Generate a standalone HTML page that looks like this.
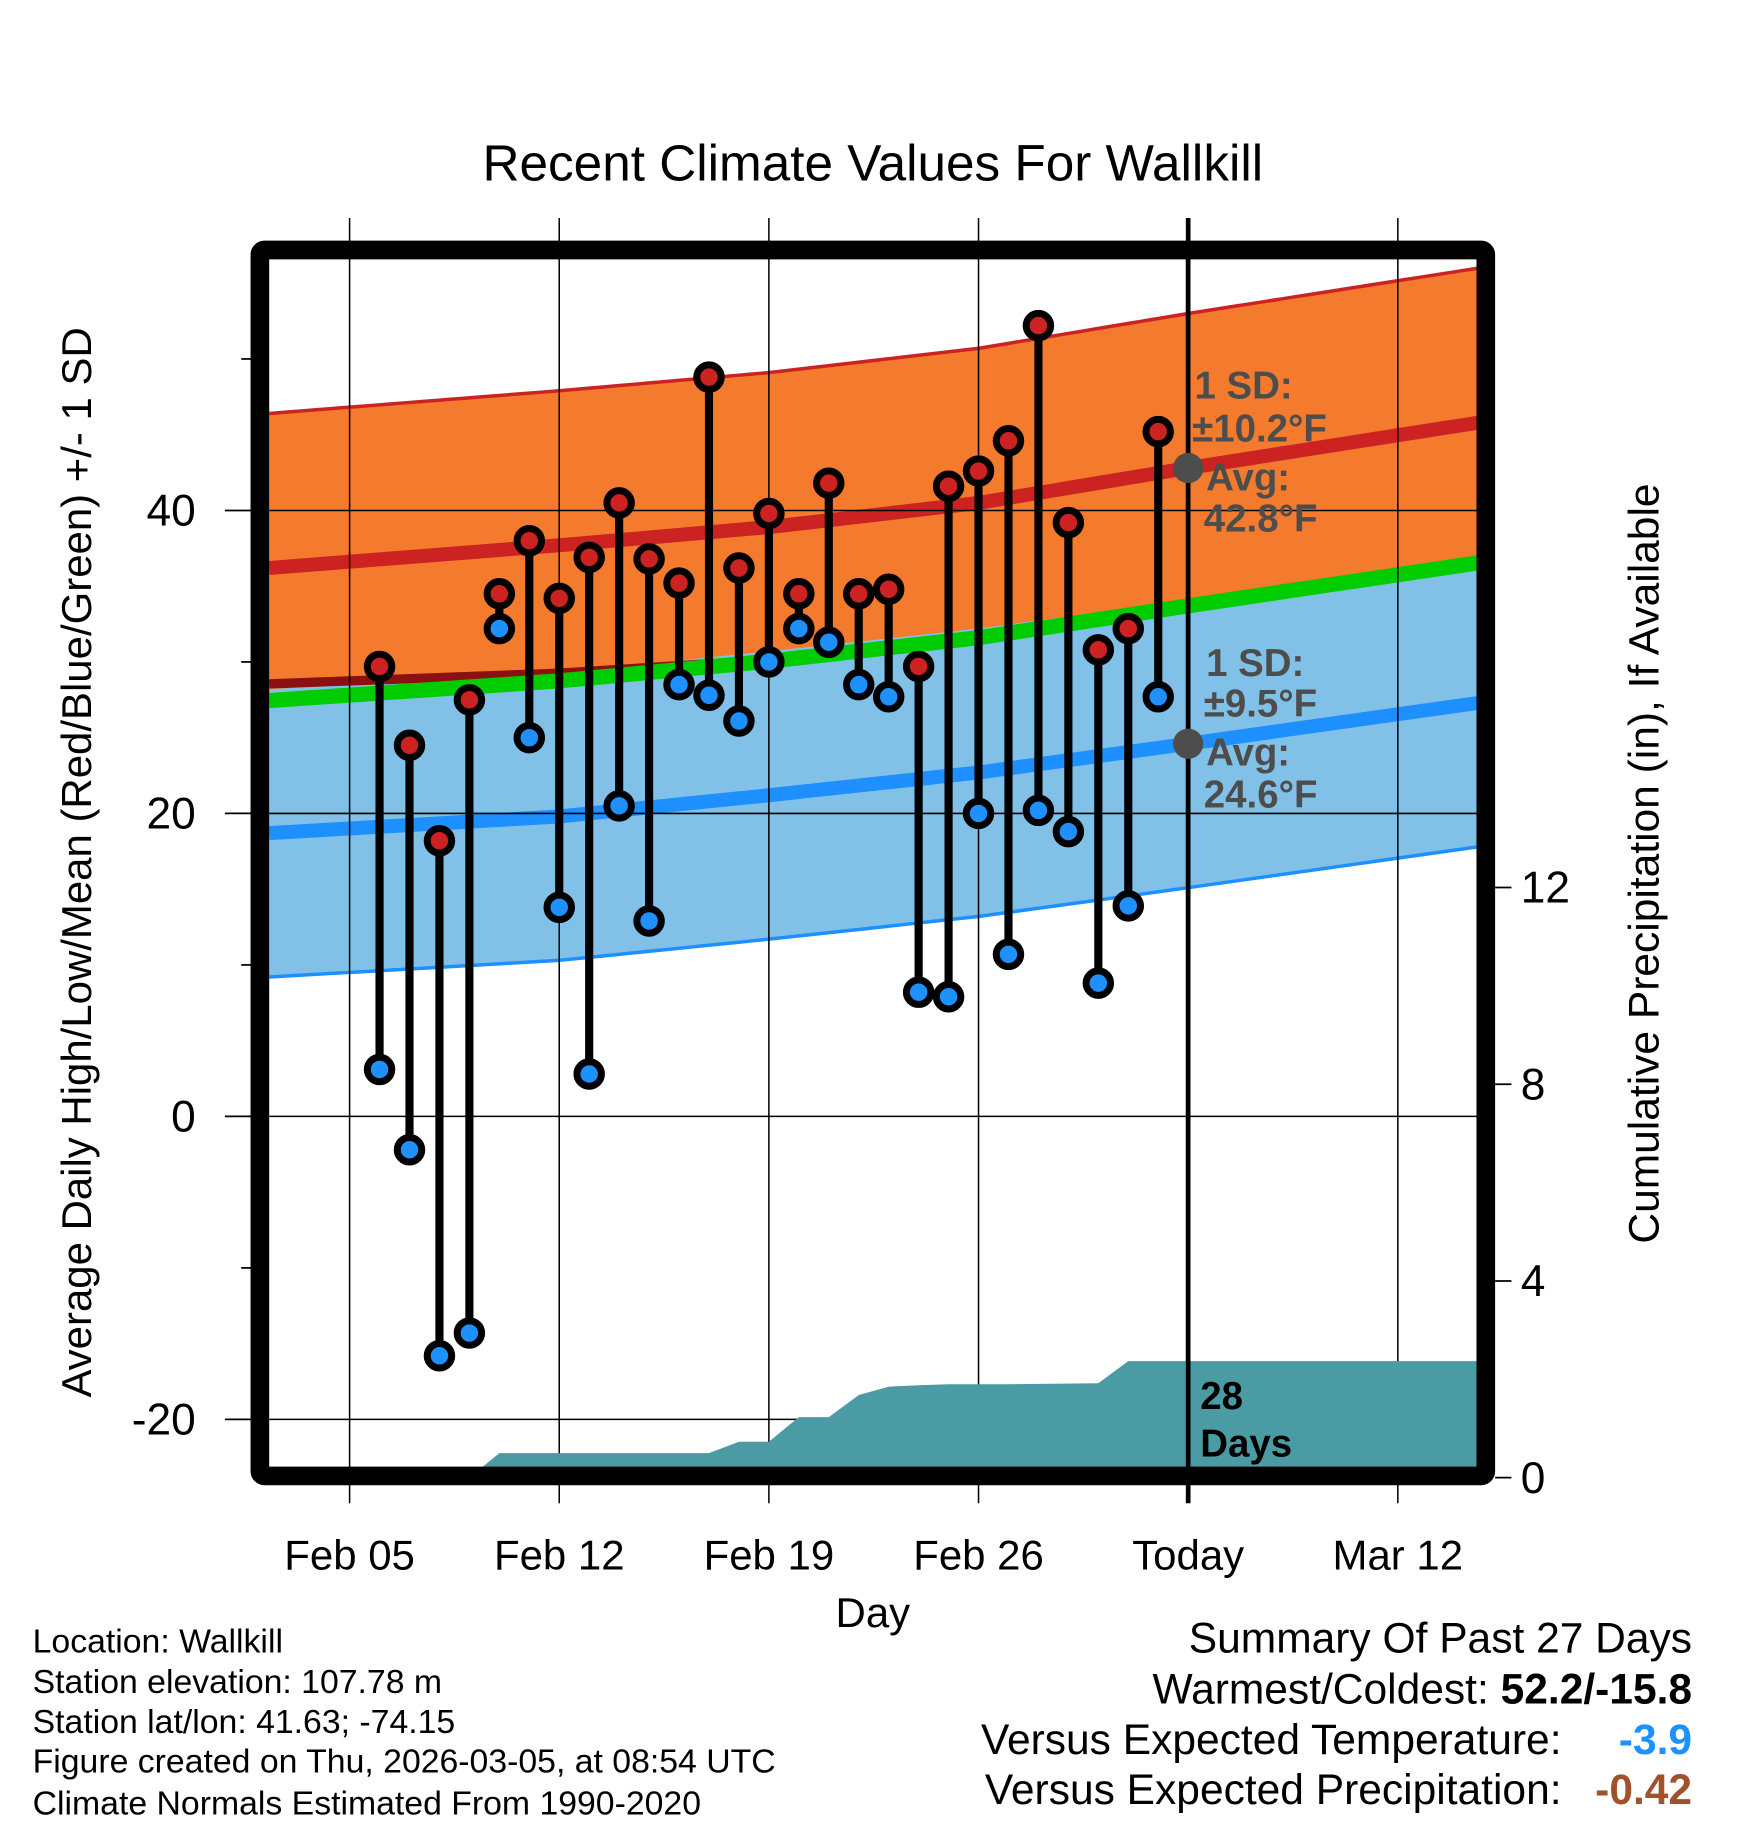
<!DOCTYPE html>
<html><head><meta charset="utf-8"><style>
html,body{margin:0;padding:0;background:#fff;}
svg{display:block;font-family:"Liberation Sans",sans-serif;}
</style></head><body>
<svg id="chart" width="1748" height="1828" viewBox="0 0 1500 1568.6" xmlns="http://www.w3.org/2000/svg">
<g id="bands"></g>
<g id="grid"></g>
<g id="precip"></g>
<g id="marks"></g>
<g id="anno"></g>
<g id="axes"></g>
<text x="749" y="155" font-size="44" text-anchor="middle">Recent Climate Values For Wallkill</text>
<text transform="translate(78,740) rotate(-90)" font-size="36" text-anchor="middle">Average Daily High/Low/Mean (Red/Blue/Green) +/- 1 SD</text>
<text transform="translate(1423,741) rotate(-90)" font-size="36.5" text-anchor="middle">Cumulative Precipitation (in), If Available</text>
<text x="749" y="1396" font-size="36" text-anchor="middle">Day</text>
<g font-size="29">
<text x="28" y="1418">Location: Wallkill</text>
<text x="28" y="1453">Station elevation: 107.78 m</text>
<text x="28" y="1487">Station lat/lon: 41.63; -74.15</text>
<text x="28" y="1521">Figure created on Thu, 2026-03-05, at 08:54 UTC</text>
<text x="28" y="1557">Climate Normals Estimated From 1990-2020</text>
</g>
<g font-size="36.5" text-anchor="end">
<text x="1452" y="1418">Summary Of Past 27 Days</text>
<text x="1452" y="1462">Warmest/Coldest: <tspan font-weight="bold">52.2/-15.8</tspan></text>
<text x="1340" y="1505">Versus Expected Temperature:</text>
<text x="1452" y="1505" fill="#1e90ff" font-weight="bold">-3.9</text>
<text x="1340" y="1548">Versus Expected Precipitation:</text>
<text x="1452" y="1548" fill="#a0522d" font-weight="bold">-0.42</text>
</g>
</svg>
<script>
// day offsets from Feb 05
const dayOffsets = [1,2,3,4,5,6,7,8,9,10,11,12,13,14,15,16,17,18,19,20,21,22,23,24,25,26,27];
const highs = [29.7,24.5,18.2,27.5,34.5,38,34.2,36.9,40.5,36.8,35.2,48.8,36.2,39.8,34.5,41.8,34.5,34.8,29.7,41.6,42.6,44.6,52.2,39.2,30.8,32.2,45.2];
const lows = [3.1,-2.2,-15.8,-14.3,32.2,25,13.8,2.8,20.5,12.9,28.5,27.8,26.1,30,32.2,31.3,28.5,27.7,8.2,7.9,20,10.7,20.2,18.8,8.8,13.9,27.7];
const normDays = [-2.7,7,14,21,28,37.7];
const normHigh = [36.2,37.7,38.9,40.5,42.8,45.8];
const normLow = [18.7,19.8,21.2,22.7,24.6,27.3];
const sdHigh = 10.2, sdLow = 9.5;
const precipDays = [-2.7,4,5,12,13,14,15,16,17,18,19,20,21,22,25,26,27,28,37.7];
const precipVals = [0,0,0.5,0.5,0.73,0.73,1.23,1.23,1.68,1.85,1.88,1.9,1.9,1.9,1.92,2.37,2.37,2.37,2.37];
const yTicks = [40,20,0,-20];
const yMinor = [50,30,10,-10];
const pTicks = [0,4,8,12];
const xTickDays = [0,7,14,21,28,35];
const xTickLabels = ["Feb 05","Feb 12","Feb 19","Feb 26","Today","Mar 12"];

const NS="http://www.w3.org/2000/svg";
const X=d=>300+25.7*d, Y=v=>958-13*v, P=p=>1268-42.2*p;
const L=231,R=1268,T=222,B=1259;
const D0=(L-300)/25.7, D1=(R-300)/25.7;
function mk(parent,tag,attrs){const e=document.createElementNS(NS,tag);for(const k in attrs)e.setAttribute(k,attrs[k]);document.getElementById(parent).appendChild(e);return e;}
function interp(arr,d){for(let i=0;i<normDays.length-1;i++){if(d<=normDays[i+1]||i===normDays.length-2){const t=(d-normDays[i])/(normDays[i+1]-normDays[i]);return arr[i]+(arr[i+1]-arr[i])*t;}}}
const samples=[];for(let k=0;k<=80;k++)samples.push(D0+(D1-D0)*k/80);
function curve(f){return samples.map(d=>[X(d),Y(f(d))]);}
function band(fu,fl){const u=curve(fu),l=curve(fl).reverse();return "M"+u.concat(l).map(p=>p.join(",")).join("L")+"Z";}
function line(f){return "M"+curve(f).map(p=>p.join(",")).join("L");}
const hi=d=>interp(normHigh,d), lo=d=>interp(normLow,d);
let e;
e=mk('bands','path',{d:band(d=>hi(d)+sdHigh,d=>hi(d)-sdHigh),fill:'#f47a2e'});

e=mk('bands','path',{d:line(d=>hi(d)+sdHigh),stroke:'#cc2222','stroke-width':3,fill:'none'});

e=mk('bands','path',{d:band(d=>lo(d)+sdLow,d=>lo(d)-sdLow),fill:'#82c1e7'});

e=mk('bands','path',{d:line(d=>lo(d)-sdLow),stroke:'#1e8fff','stroke-width':3,fill:'none'});

e=mk('bands','path',{d:line(d=>(hi(d)+lo(d))/2+Math.max(0,1.1*(1-(d-D0)/18))),stroke:'#8b1010','stroke-width':8,fill:'none'});

e=mk('bands','path',{d:line(d=>(hi(d)+lo(d))/2),stroke:'#00cc00','stroke-width':13,fill:'none'});

e=mk('bands','path',{d:line(hi),stroke:'#cc2222','stroke-width':12,fill:'none'});

e=mk('bands','path',{d:line(lo),stroke:'#1e8fff','stroke-width':12,fill:'none'});

e=mk('bands','rect',{x:L,y:0,width:R-L,height:T,fill:'#fff'});


// grid
yTicks.forEach(v=>{e=mk('grid','line',{x1:L,x2:R,y1:Y(v),y2:Y(v),stroke:'#000','stroke-width':1.3});
});
xTickDays.forEach((d,i)=>{e=mk('grid','line',{x1:X(d),x2:X(d),y1:187,y2:1290,stroke:'#000','stroke-width':i===4?4:1.3});
});

// precip
const pp=precipDays.map((d,i)=>[Math.max(L,Math.min(R,X(d))),P(precipVals[i])]);
e=mk('precip','path',{d:"M"+L+","+B+"L"+pp.map(p=>p.join(",")).join("L")+"L"+R+","+B+"Z",fill:'#4a9ba3'});

e=mk('precip','line',{x1:X(28),x2:X(28),y1:T,y2:B,stroke:'#000','stroke-width':4});


// marks
dayOffsets.forEach((d,i)=>{
 e=mk('marks','line',{x1:X(d),x2:X(d),y1:Y(highs[i]),y2:Y(lows[i]),stroke:'#000','stroke-width':7});
 
 e=mk('marks','circle',{cx:X(d),cy:Y(highs[i]),r:10.5,fill:'#cc2222',stroke:'#000','stroke-width':6});
 
 e=mk('marks','circle',{cx:X(d),cy:Y(lows[i]),r:10.5,fill:'#1e90ff',stroke:'#000','stroke-width':6});
 
});

// annotations
e=mk('anno','circle',{cx:X(28),cy:Y(42.8),r:13,fill:'#4d4d4d'});

e=mk('anno','circle',{cx:X(28),cy:Y(24.6),r:13,fill:'#4d4d4d'});

const annos=[[1025,342,"1 SD:"],[1023,379,"±10.2°F"],[1035,421,"Avg:"],[1033,456,"42.8°F"],[1035,580,"1 SD:"],[1033,615,"±9.5°F"],[1035,657,"Avg:"],[1033,693,"24.6°F"]];
annos.forEach(a=>{e=mk('anno','text',{x:a[0],y:a[1],'font-size':33,'font-weight':'bold',fill:'#4d4d4d'});e.textContent=a[2];
});
[[1030,1209,"28"],[1030,1250,"Days"]].forEach(a=>{e=mk('anno','text',{x:a[0],y:a[1],'font-size':33,'font-weight':'bold',fill:'#000'});e.textContent=a[2];
});

// axes frame
e=mk('axes','rect',{x:223,y:214.5,width:1052,height:1052,fill:'none',stroke:'#000','stroke-width':16,rx:4});

yTicks.forEach(v=>{e=mk('axes','line',{x1:193,x2:216,y1:Y(v),y2:Y(v),stroke:'#000','stroke-width':1.5});

e=mk('axes','text',{x:168,y:Y(v)+13,'font-size':38,'text-anchor':'end'});e.textContent=v;
});
yMinor.forEach(v=>{e=mk('axes','line',{x1:207,x2:216,y1:Y(v),y2:Y(v),stroke:'#000','stroke-width':1.5});
});
pTicks.forEach(p=>{e=mk('axes','line',{x1:1283,x2:1297,y1:P(p),y2:P(p),stroke:'#000','stroke-width':1.5});

e=mk('axes','text',{x:1305,y:P(p)+13,'font-size':38});e.textContent=p;
});
xTickDays.forEach((d,i)=>{e=mk('axes','text',{x:X(d),y:1347,'font-size':36,'text-anchor':'middle'});e.textContent=xTickLabels[i];
});
</script>
</body></html>
